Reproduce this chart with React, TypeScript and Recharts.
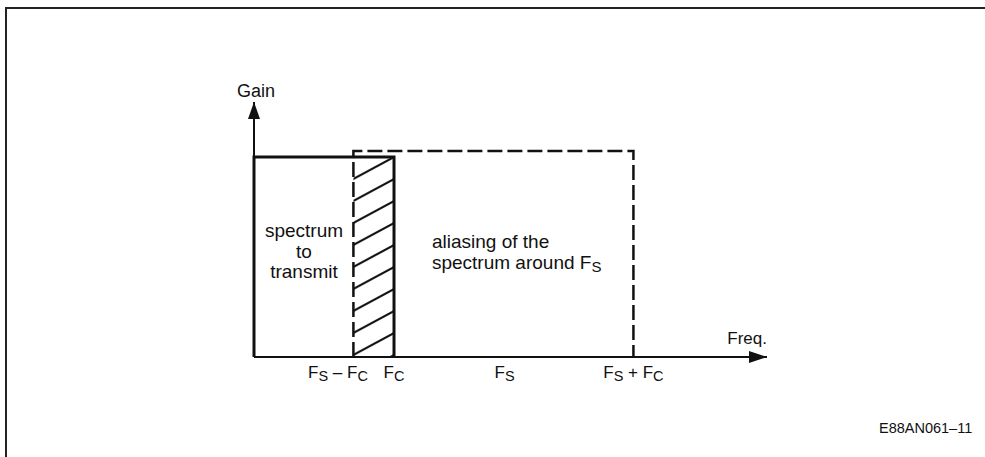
import React from 'react';
import { ComposedChart, Line, XAxis, YAxis, ReferenceLine, ReferenceDot, ReferenceArea } from 'recharts';

// ---- data (frequency in units of FC, gain normalised) ----
const FC = 1.0;
const FS = 1.71;
const GAIN = 1.0;
const ALIAS_GAIN = 1.03;
const X_MAX = 3.664;
const Y_MAX = 1.275;

const transmitSpectrum = [
  { f: 0, g: 0 },
  { f: 0, g: GAIN },
  { f: FC, g: GAIN },
  { f: FC, g: 0 },
];
const aliasSpectrum = [
  { f: FS - FC, g: 0 },
  { f: FS - FC, g: ALIAS_GAIN },
  { f: FS + FC, g: ALIAS_GAIN },
  { f: FS + FC, g: 0 },
];
const tickValues = [0.6, 1.0, 1.79, 2.71];
const tickLabels = ['F_S – F_C', 'F_C', 'F_S', 'F_S + F_C'];
const transmitText = ['spectrum', 'to', 'transmit'];
const aliasText = ['aliasing of the', 'spectrum around F_S'];
const yAxisTitle = 'Gain';
const xAxisTitle = 'Freq.';
const figureId = 'E88AN061–11';

const INK = '#111';
const FONT = '"Liberation Sans", Arial, Helvetica, sans-serif';

// renders text with "_X" meaning a lowered subscript capital
const Rich = ({ s, size, sub }: { s: string; size: number; sub: number }) => {
  const parts = s.split(/_(\w)/);
  const out: any[] = [];
  let lowered = false;
  parts.forEach((p, i) => {
    if (p === '') return;
    if (i % 2 === 1) {
      out.push(
        <tspan key={i} fontSize={sub} dy={lowered ? 0 : 3}>
          {p}
        </tspan>
      );
      lowered = true;
    } else {
      out.push(
        <tspan key={i} fontSize={size} dy={lowered ? -3 : 0}>
          {p}
        </tspan>
      );
      lowered = false;
    }
  });
  return <>{out}</>;
};

const XTick = (props: any) => {
  const { x, y, index } = props;
  const label = tickLabels[index] ?? '';
  return (
    <text x={x} y={y + 21} textAnchor="middle" fill={INK} fontFamily={FONT} fontSize={17}>
      <Rich s={label} size={17} sub={14.5} />
    </text>
  );
};

const HatchShape = (props: any) => {
  const { x, y, width, height } = props;
  const p = 22;
  return (
    <g>
      <defs>
        <pattern id="hatchPattern" patternUnits="userSpaceOnUse" x={x} y={y} width={width} height={p}>
          <line x1={0} y1={p} x2={width} y2={0} stroke={INK} strokeWidth={2} />
          <line x1={0} y1={2 * p} x2={width} y2={p} stroke={INK} strokeWidth={2} />
          <line x1={0} y1={0} x2={width} y2={-p} stroke={INK} strokeWidth={2} />
        </pattern>
      </defs>
      <rect x={x} y={y} width={width} height={height} fill="url(#hatchPattern)" stroke="none" />
    </g>
  );
};

const XArrow = (props: any) => {
  const { cx, cy } = props;
  return (
    <g>
      <polygon points={`${cx - 18},${cy - 6} ${cx},${cy} ${cx - 18},${cy + 6}`} fill={INK} />
      <text x={cx} y={cy - 13} textAnchor="end" fill={INK} fontFamily={FONT} fontSize={17}>
        {xAxisTitle}
      </text>
    </g>
  );
};

const YArrow = (props: any) => {
  const { cx, cy } = props;
  return (
    <g>
      <polygon points={`${cx - 6},${cy + 17} ${cx},${cy} ${cx + 6},${cy + 17}`} fill={INK} />
      <text x={cx + 2} y={cy - 5} textAnchor="middle" fill={INK} fontFamily={FONT} fontSize={18}>
        {yAxisTitle}
      </text>
    </g>
  );
};

const MultiLine = ({ cx, cy, lines, anchor }: { cx: number; cy: number; lines: string[]; anchor: 'start' | 'middle' }) => (
  <text x={cx} y={cy} textAnchor={anchor} fill={INK} fontFamily={FONT} fontSize={19}>
    {lines.map((l, i) => (
      <tspan key={i} x={cx} y={cy + i * 20.5}>
        <Rich s={l} size={19} sub={15} />
      </tspan>
    ))}
  </text>
);

export default function App() {
  return (
    <div style={{ position: 'absolute', left: 0, top: 0, width: 985, height: 457, background: '#fff' }}>
      <div
        style={{
          position: 'absolute',
          left: 5,
          top: 7,
          width: 980,
          height: 450,
          borderLeft: '2px solid #222',
          borderTop: '2px solid #222',
          boxSizing: 'border-box',
        }}
      />
      <div style={{ position: 'absolute', left: 0, top: 0 }}>
        <ComposedChart width={985} height={457} margin={{ top: 102, left: 254, right: 218, bottom: 70 }}>
          <XAxis
            type="number"
            dataKey="f"
            domain={[0, X_MAX]}
            ticks={tickValues}
            tick={<XTick />}
            tickLine={false}
            tickSize={0}
            tickMargin={0}
            interval={0}
            height={30}
            axisLine={{ stroke: INK, strokeWidth: 2 }}
          />
          <YAxis type="number" dataKey="g" domain={[0, Y_MAX]} hide />
          <ReferenceLine x={0} stroke={INK} strokeWidth={2} />
          <ReferenceArea x1={FS - FC} x2={FC} y1={0} y2={GAIN} shape={<HatchShape />} />
          <Line
            data={aliasSpectrum}
            dataKey="g"
            type="linear"
            stroke={INK}
            strokeWidth={2.5}
            strokeDasharray="15 5"
            dot={false}
            activeDot={false}
            isAnimationActive={false}
            legendType="none"
          />
          <Line
            data={transmitSpectrum}
            dataKey="g"
            type="linear"
            stroke={INK}
            strokeWidth={3}
            strokeLinejoin="miter"
            dot={false}
            activeDot={false}
            isAnimationActive={false}
            legendType="none"
          />
          <ReferenceDot x={X_MAX} y={0} r={0} ifOverflow="visible" shape={<XArrow />} />
          <ReferenceDot x={0} y={Y_MAX} r={0} ifOverflow="visible" shape={<YArrow />} />
          <ReferenceDot
            x={0.357}
            y={0.6}
            r={0}
            ifOverflow="visible"
            shape={(p: any) => <MultiLine cx={p.cx} cy={p.cy} lines={transmitText} anchor="middle" />}
          />
          <ReferenceDot
            x={1.271}
            y={0.545}
            r={0}
            ifOverflow="visible"
            shape={(p: any) => <MultiLine cx={p.cx} cy={p.cy} lines={aliasText} anchor="start" />}
          />
          <ReferenceDot
            x={5.13}
            y={-0.38}
            r={0}
            ifOverflow="visible"
            shape={(p: any) => (
              <text x={p.cx} y={p.cy} textAnchor="end" fill={INK} fontFamily={FONT} fontSize={14.5}>
                {figureId}
              </text>
            )}
          />
        </ComposedChart>
      </div>
    </div>
  );
}
